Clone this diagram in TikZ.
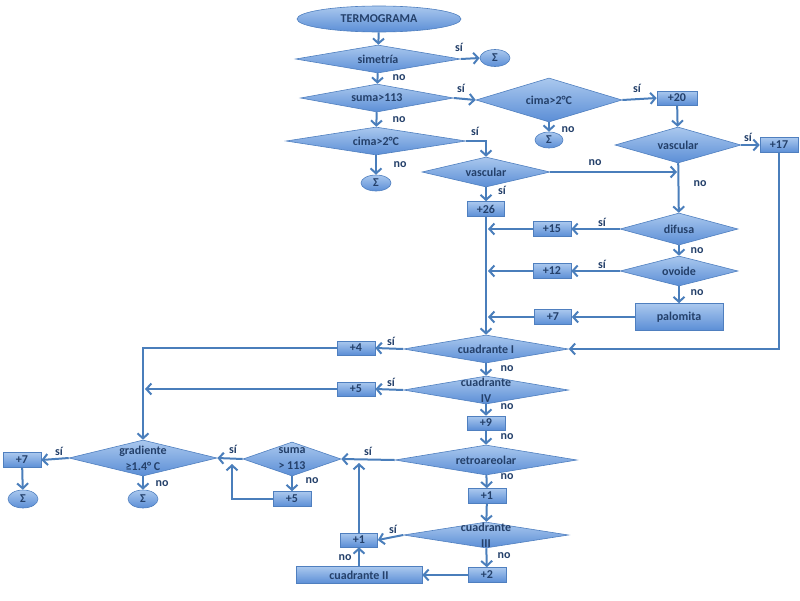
\documentclass[tikz,border=0pt]{standalone}
\usepackage{fontspec}
\setmainfont{Carlito}
\usetikzlibrary{shapes.geometric,arrows.meta}
\definecolor{ln}{HTML}{4A7EBB}
\definecolor{tx}{HTML}{24406A}
\definecolor{ftop}{HTML}{AAC8EE}
\definecolor{fbot}{HTML}{5B8ED6}
\definecolor{edge}{HTML}{4F7FBF}
\begin{document}
\begin{tikzpicture}[x=1pt,y=-1pt,
  txtf/.style={text=tx, font=\bfseries\fontsize{12}{16}\selectfont},
  shp/.style={draw=edge, line width=0.6pt, top color=ftop, bottom color=fbot, txtf, inner sep=0pt},
  box/.style={shp, rectangle, minimum width=38pt, minimum height=15pt},
  ell/.style={shp, ellipse},
  sig/.style={ell, minimum width=30pt, minimum height=17pt},
  lbl/.style={txtf, align=center, inner sep=0pt},
  dia/.style n args={3}{shp, diamond, minimum width=#1, minimum height=#2, label={[lbl]center:#3}},
  yn/.style={txtf, inner sep=0pt},
  con/.style={draw=ln, line width=2pt, -{Straight Barb[length=5pt,width=11pt]}},
  pl/.style={draw=ln, line width=2pt}
]
\useasboundingbox (0,0) rectangle (800,600);

% nodes
\node[ell, minimum width=164pt, minimum height=26pt] (termo) at (379,19) {TERMOGRAMA};
\node[dia={165pt}{28pt}{simetría}] (sim) at (378,59) {};
\node[sig] (s1) at (495,58) {Σ};
\node[dia={153pt}{28pt}{suma>113}] (suma1) at (377,98) {};
\node[dia={146pt}{44pt}{cima>2°C}] (cimaR) at (549,100) {};
\node[sig, minimum width=28pt, minimum height=16pt] (s2) at (549,140) {Σ};
\node[box, minimum width=40pt, minimum height=14pt] (p20) at (677,98) {+20};
\node[dia={126pt}{36pt}{vascular}] (vascR) at (678,145) {};
\node[box] (p17) at (779,145) {+17};
\node[dia={180pt}{28pt}{cima>2°C}] (cimaL) at (376,141) {};
\node[sig, minimum height=16pt] (s3) at (376,183) {Σ};
\node[dia={128pt}{30pt}{vascular}] (vascL) at (486,172) {};
\node[box, minimum width=37pt] (p26) at (486,209) {+26};
\node[dia={118pt}{32pt}{difusa}] (dif) at (679,229) {};
\node[box] (p15) at (552,229) {+15};
\node[dia={118pt}{30pt}{ovoide}] (ovo) at (679,271) {};
\node[box] (p12) at (552,271) {+12};
\node[box, minimum width=88pt, minimum height=27pt] (pal) at (679,317) {palomita};
\node[box, minimum width=37pt] (p7a) at (553,317) {+7};
\node[dia={165pt}{28pt}{cuadrante I}] (c1) at (486,349) {};
\node[dia={165pt}{28pt}{cuadrante\\IV}] (c4) at (486,390) {};
\node[box, minimum height=14pt] (p4) at (356,348) {+4};
\node[box, minimum height=14pt] (p5a) at (356,389) {+5};
\node[box, minimum height=14pt] (p9) at (486,423) {+9};
\node[dia={182pt}{30pt}{retroareolar}] (retro) at (486,460) {};
\node[box] (p1a) at (487,496) {+1};
\node[dia={165pt}{26pt}{cuadrante\\III}] (c3) at (486,535) {};
\node[box, minimum width=37pt, minimum height=14pt] (p1b) at (359,540) {+1};
\node[box] (p2) at (487,575) {+2};
\node[box, minimum width=126pt, minimum height=17pt] (c2) at (359,575) {cuadrante II};
\node[dia={98pt}{34pt}{suma\\> 113}] (suma2) at (292,459) {};
\node[box] (p5b) at (292,499) {+5};
\node[dia={148pt}{36pt}{gradiente\\≥1.4° C}] (grad) at (143,458) {};
\node[box] (p7b) at (22,460) {+7};
\node[sig, minimum height=18pt] (s4) at (23,499) {Σ};
\node[sig, minimum height=18pt] (s5) at (143,499) {Σ};

% junction coordinates
\coordinate (jn) at (677,172);
\coordinate (j15) at (488,229);
\coordinate (j12) at (488,271);
\coordinate (j7) at (488,317);
\coordinate (j5) at (145,389);
\coordinate (jr) at (359,463);
\coordinate (js) at (232,464);

% connectors
\draw[con] (termo) -- (sim);
\draw[con] (sim.east) -- (s1.west);
\draw[con] (sim) -- (suma1);
\draw[con] (suma1.east) -- (cimaR.west);
\draw[con] (suma1) -- (cimaL);
\draw[con] (cimaR.east) -- (p20.west);
\draw[con] (cimaR) -- (s2);
\draw[con] (p20) -- (vascR);
\draw[con] (vascR.east) -- (p17.west);
\draw[con] (vascR) -- (dif);
\draw[con] (cimaL) -- (s3);
\draw[con] (cimaL.east) -| (vascL.north);
\draw[con] (vascL.east) -- (jn);
\draw[con] (vascL) -- (p26);
\draw[con] (p26) -- (c1);
\draw[con] (dif.west) -- (p15.east);
\draw[con] (p15.west) -- (j15);
\draw[con] (dif) -- (ovo);
\draw[con] (ovo.west) -- (p12.east);
\draw[con] (p12.west) -- (j12);
\draw[con] (ovo) -- (pal);
\draw[con] (pal.west) -- (p7a.east);
\draw[con] (p7a.west) -- (j7);
\draw[con] (p17.south) |- (c1.east);
\draw[con] (c1.west) -- (p4.east);
\draw[con] (p4.west) -| (grad.north);
\draw[con] (c1) -- (c4);
\draw[con] (c4.west) -- (p5a.east);
\draw[con] (p5a.west) -- (j5);
\draw[con] (c4) -- (p9);
\draw[con] (p9) -- (retro);
\draw[con] (retro.west) -- (suma2.east);
\draw[con] (retro) -- (p1a);
\draw[con] (p1a) -- (c3);
\draw[con] (c3.west) -- (p1b.east);
\draw[con] (p1b.north) -- (jr);
\draw[con] (c3) -- (p2);
\draw[con] (p2.west) -- (c2.east);
\draw[con] (c2.north) -- (p1b.south);
\draw[con] (suma2.west) -- (grad.east);
\draw[con] (suma2) -- (p5b);
\draw[con] (p5b.west) -| (js);
\draw[con] (grad.west) -- (p7b.east);
\draw[con] (grad) -- (s5);
\draw[con] (p7b) -- (s4);

% yes / no labels
\node[yn] (y1) at (459,47) {sí};
\node[yn] (n1) at (399,78) {no};
\node[yn] (y2) at (461,88) {sí};
\node[yn] (n2) at (399,120) {no};
\node[yn] (y3) at (475,131) {sí};
\node[yn] (n3) at (400,165) {no};
\node[yn] (y4) at (637,88) {sí};
\node[yn] (n4) at (568,130) {no};
\node[yn] (y5) at (748,137) {sí};
\node[yn] (n5) at (595,163) {no};
\node[yn] (n6) at (700,184) {no};
\node[yn] (y6) at (502,190) {sí};
\node[yn] (y7) at (602,222) {sí};
\node[yn] (n7) at (697,251) {no};
\node[yn] (y8) at (602,264) {sí};
\node[yn] (n8) at (697,293) {no};
\node[yn] (y9) at (391,341) {sí};
\node[yn] (n9) at (507,369) {no};
\node[yn] (y10) at (391,382) {sí};
\node[yn] (n10) at (507,407) {no};
\node[yn] (n11) at (507,437) {no};
\node[yn] (y11) at (368,451) {sí};
\node[yn] (n12) at (507,477) {no};
\node[yn] (y12) at (393,529) {sí};
\node[yn] (n13) at (504,556) {no};
\node[yn] (n14) at (345,558) {no};
\node[yn] (y13) at (233,449) {sí};
\node[yn] (n15) at (312,481) {no};
\node[yn] (y14) at (59,451) {sí};
\node[yn] (n16) at (162,484) {no};
\end{tikzpicture}
\end{document}
